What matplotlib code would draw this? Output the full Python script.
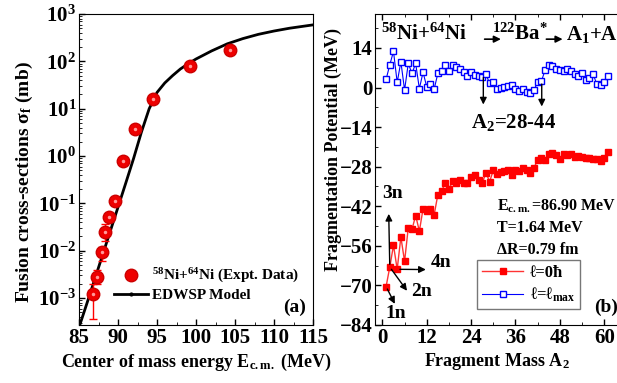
import numpy as np
import matplotlib
matplotlib.use('Agg')
from matplotlib import pyplot as plt
from matplotlib.lines import Line2D
from matplotlib.ticker import MultipleLocator, LogLocator, NullFormatter

plt.rcParams['font.family'] = ['Liberation Serif', 'DejaVu Serif']
plt.rcParams['font.weight'] = 'bold'
plt.rcParams['mathtext.fontset'] = 'custom'
plt.rcParams['mathtext.rm'] = 'Liberation Serif:bold'
plt.rcParams['mathtext.it'] = 'Liberation Serif:italic:bold'
plt.rcParams['mathtext.bf'] = 'Liberation Serif:bold'

# panel (a): experimental fusion cross sections
exp_E = [86.83, 87.27, 87.9, 88.33, 88.85, 89.6, 90.6, 92.2, 94.5, 99.2, 104.3]
exp_sig = [1.2e-3, 2.8e-3, 9.2e-3, 0.025, 0.052, 0.115, 0.8, 3.7, 16, 78, 170]
err_lo = [3.7e-4, 2.0e-3, 6.2e-3, 0.016]
err_hi = [2.0e-3, 3.9e-3, 1.2e-2, 0.036]

# EDWSP model curve
model_E = [85.1, 86, 87, 88, 89, 90, 91, 92, 93, 94, 95, 96, 97, 98, 99, 100,
           102, 104, 106, 108, 110, 112, 115]
model_sig = [2.7e-4, 7.6e-4, 2.45e-3, 7.9e-3, 0.0257, 0.083, 0.27, 0.89, 3.2, 10,
             22, 35, 50, 69, 89, 112, 166, 234, 302, 372, 437, 501, 589]

# panel (b): fragmentation potential
A2 = list(range(1, 62))
V_l0 = [-70.4, -63.5, -55.8, -64.3, -52.9, -61.5, -49.6, -50.2, -45.3, -50.8,
        -42.9, -43.7, -42.9, -45.0, -37.9, -36.6, -33.9, -35.8, -33.2, -33.7,
        -32.7, -33.9, -33.9, -31.8, -31.0, -32.7, -33.9, -30.1, -33.3, -29.3,
        -30.7, -29.9, -29.5, -29.3, -31.1, -29.3, -29.7, -28.6, -29.2, -30.2,
        -28.4, -25.6, -25.1, -25.6, -23.4, -23.0, -23.9, -25.4, -23.6, -23.9,
        -23.4, -24.6, -24.2, -24.6, -25.1, -25.1, -25.4, -25.4, -26.0, -24.8,
        -22.8]
V_lmax = [2.9, 8.0, 12.8, 1.8, 9.1, -0.9, 8.5, 5.0, 8.5, -0.4,
          5.4, 0.2, 1.4, -0.6, 5.0, 5.8, 8.0, 5.9, 7.8, 7.1,
          6.6, 5.6, 4.0, 5.6, 4.4, 4.0, 3.8, 4.7, 1.5, 1.8,
          -0.4, 0.0, 0.2, 0.6, 0.9, -0.4, -1.2, -0.6, -1.5, -2.0,
          -0.8, 1.8, 2.2, 6.1, 7.9, 7.6, 6.5, 6.1, 5.7, 6.5,
          5.9, 4.7, 4.1, 5.1, 2.7, 3.5, 4.7, 1.2, 0.8, 2.1,
          3.9]

fig = plt.figure(figsize=(6.17, 3.83), dpi=100)
ax1 = fig.add_axes([79/617, 58/383, 234/617, 311/383])
ax2 = fig.add_axes([375/617, 58/383, 244/617, 311/383])

# ---- (a)
ax1.plot(model_E, model_sig, color='black', lw=2, zorder=2)
yerr = [np.array(exp_sig[:4]) - np.array(err_lo), np.array(err_hi) - np.array(exp_sig[:4])]
ax1.errorbar(exp_E[:4], exp_sig[:4], yerr=yerr, fmt='none', ecolor='red', elinewidth=1,
             capsize=3, zorder=3)
ax1.plot(exp_E, exp_sig, 'o', color='#ee0000', mec='#cc0000', ms=9, zorder=4)
ax1.plot(exp_E, exp_sig, 'o', color='#ff9a9a', mec='none', ms=2.5, zorder=5)
ax1.set_yscale('log')
ax1.set_xlim(85, 115)
ax1.set_ylim(2.7e-4, 1e3)
ax1.xaxis.set_major_locator(MultipleLocator(5))
ax1.xaxis.set_minor_locator(MultipleLocator(2.5))
ax1.yaxis.set_major_locator(LogLocator(base=10, numticks=20))
ax1.yaxis.set_minor_locator(LogLocator(base=10, subs=np.arange(2, 10), numticks=20))
ax1.yaxis.set_minor_formatter(NullFormatter())
ax1.tick_params(which='both', direction='in', labelsize=15, pad=2)
ax1.tick_params(which='major', length=4, width=1)
ax1.tick_params(which='minor', length=2)
ax1.set_xlabel('Center of mass energy E$_{\\mathregular{c.m.}}$ (MeV)', fontsize=13,
               fontweight='bold')
ax1.xaxis.set_label_coords(0.5, -0.085)
ax1.set_ylabel('Fusion cross-sections \u03c3$_{\\mathregular{f}}$ (mb)', fontsize=14,
               fontweight='bold')
ax1.yaxis.set_label_coords(-0.19, 0.46)
h1 = Line2D([], [], marker='o', ls='none', color='#ee0000', mec='#cc0000', ms=9)
h2 = Line2D([], [], color='black', lw=2, marker='o', ms=2)
ax1.legend([h1, h2], ['$^{58}$Ni+$^{64}$Ni (Expt. Data)', 'EDWSP Model'],
           loc='lower right', bbox_to_anchor=(1.0, 0.03), frameon=False,
           prop={'size': 11, 'weight': 'bold'}, handlelength=2.2, handletextpad=0.3,
           labelspacing=0.2)
ax1.text(0.97, 0.03, '(a)', transform=ax1.transAxes, ha='right', va='bottom',
         fontsize=14, fontweight='bold')

# ---- (b)
ax2.plot(A2, V_l0, '-s', color='#ff3333', mfc='red', mec='red', ms=5, lw=1)
ax2.plot(A2, V_lmax, '-s', color='blue', mfc='white', mec='blue', ms=5, lw=0.8,
         mew=1)
ax2.set_xlim(-2, 64)
ax2.set_ylim(-84, 26)
ax2.xaxis.set_major_locator(MultipleLocator(12))
ax2.xaxis.set_minor_locator(MultipleLocator(6))
ax2.yaxis.set_major_locator(MultipleLocator(14))
ax2.yaxis.set_minor_locator(MultipleLocator(7))
ax2.tick_params(which='both', direction='in', labelsize=15, top=True, pad=2)
ax2.tick_params(which='major', length=4, width=1)
ax2.tick_params(which='minor', length=2)
ax2.set_xlabel('Fragment Mass A$_{\\mathregular{2}}$', fontsize=13, fontweight='bold')
ax2.xaxis.set_label_coords(0.5, -0.085)
ax2.set_ylabel('Fragmentation Potential (MeV)', fontsize=13, fontweight='bold')
ax2.yaxis.set_label_coords(-0.135, 0.563)

ax2.text(-0.3, 18.9, '$^{58}$Ni+$^{64}$Ni', fontsize=15, va='center')
ax2.annotate('', xy=(32.8, 17.1), xytext=(26.9, 17.1),
             arrowprops=dict(arrowstyle='-|>', color='black', lw=1.2))
ax2.text(29.6, 18.9, '$^{122}$Ba$^{*}$', fontsize=15, va='center')
ax2.annotate('', xy=(49.5, 17.1), xytext=(43.6, 17.1),
             arrowprops=dict(arrowstyle='-|>', color='black', lw=1.2))
ax2.text(49.6, 18.9, 'A$_{1}$+A$_{2}$', fontsize=15, va='center')

ax2.annotate('', xy=(27.3, -7), xytext=(27.3, 4.5),
             arrowprops=dict(arrowstyle='-|>', color='black', lw=1))
ax2.annotate('', xy=(43.1, -7.7), xytext=(43.1, 2.2),
             arrowprops=dict(arrowstyle='-|>', color='black', lw=1))
ax2.text(35.5, -12.4, 'A$_{2}$=28-44', fontsize=15, ha='center', va='center')

arrow = dict(arrowstyle='-|>', color='black', lw=1)
ax2.annotate('', xy=(3.7, -77.4), xytext=(1, -70.4), arrowprops=arrow)
ax2.text(3.5, -80, '1n', fontsize=14, ha='center', va='center')
ax2.annotate('', xy=(7.1, -72.7), xytext=(2, -63.5), arrowprops=arrow)
ax2.text(10.5, -72, '2n', fontsize=14, ha='center', va='center')
ax2.annotate('', xy=(1.7, -43.7), xytext=(2, -63.5), arrowprops=arrow)
ax2.text(2.6, -37.4, '3n', fontsize=14, ha='center', va='center')
ax2.annotate('', xy=(12.5, -64.4), xytext=(4, -64.3), arrowprops=arrow)
ax2.text(15.8, -62, '4n', fontsize=14, ha='center', va='center')

ax2.text(31.0, -42, 'E$_{\\mathregular{c.m.}}$=86.90 MeV', fontsize=11.5, va='center')
ax2.text(31.0, -49.6, 'T=1.64 MeV', fontsize=11.5, va='center')
ax2.text(31.0, -57.3, '\u0394R=0.79 fm', fontsize=11.5, va='center')

hr = Line2D([], [], color='#ff3333', marker='s', mfc='red', mec='red', ms=5, lw=1)
hb = Line2D([], [], color='blue', marker='s', mfc='white', mec='blue', ms=5, lw=0.8)
leg = ax2.legend([hr, hb], ['\u2113=0\u0127', '\u2113=\u2113$_{\\mathregular{max}}$'],
                 loc='upper left', bbox_to_anchor=(0.417, 0.209), borderaxespad=0,
                 prop={'size': 12, 'weight': 'bold'}, fancybox=False, edgecolor='#555555',
                 handlelength=2.5, handletextpad=0.4, borderpad=0.3, labelspacing=0.3)
leg.get_frame().set_linewidth(1)
ax2.text(0.995, 0.03, '(b)', transform=ax2.transAxes, ha='right', va='bottom',
         fontsize=14, fontweight='bold')

fig.savefig('out.png', dpi=100)
